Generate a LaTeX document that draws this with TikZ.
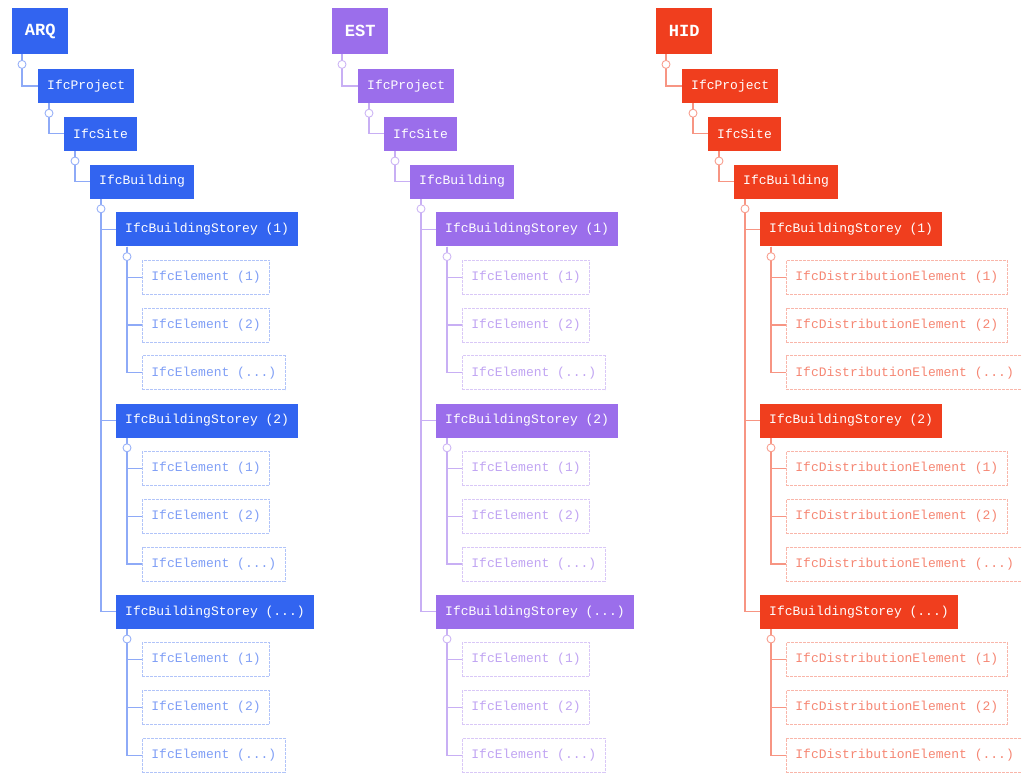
\documentclass[tikz,border=0pt]{standalone}
\usepackage{fontspec}
\setmonofont{Liberation Mono}
\usetikzlibrary{calc}

\definecolor{arq}{RGB}{50,100,240}
\definecolor{est}{RGB}{155,110,235}
\definecolor{hid}{RGB}{240,62,30}

\newcommand\more{...}

\tikzset{
  head/.style={fill=#1, text=white, font=\ttfamily\bfseries\fontsize{17}{17}\selectfont,
    minimum width=56pt, minimum height=46pt, inner sep=0pt, anchor=north west},
  level/.style={fill=#1, text=white, font=\ttfamily\fontsize{13}{13}\selectfont,
    minimum height=34pt, inner xsep=9pt, inner ysep=0pt, anchor=west},
  leaf/.style={draw=#1!38!white, dash pattern=on 3pt off 1pt, line width=0.8pt, fill=white,
    text=#1!62!white, font=\ttfamily\fontsize{13}{13}\selectfont,
    minimum height=34pt, inner xsep=9pt, inner ysep=0pt, anchor=west},
  link/.style={draw=#1!55!white, line width=1.3pt},
  knob/.style={circle, draw=#1!50!white, fill=white, line width=0.9pt,
    inner sep=0pt, minimum size=8pt},
}

% One discipline tree: #1 name prefix, #2 x offset, #3 colour, #4 title, #5 element class
\newcommand\disciplinetree[5]{%
  \begin{scope}[xshift=#2pt]
    \node[head=#3] (#1-top) at (12,8) {#4};
    \node[level=#3] (#1-prj) at (38,86) {IfcProject};
    \node[level=#3] (#1-site) at (64,133.8) {IfcSite};
    \node[level=#3] (#1-bld) at (90,181.6) {IfcBuilding};
    % chain project -> site -> building
    \draw[link=#3] ($(#1-top.south west)+(10,0)$) |- (#1-prj.west);
    \draw[link=#3] ($(#1-prj.south west)+(11,0)$) |- (#1-site.west);
    \draw[link=#3] ($(#1-site.south west)+(11,0)$) |- (#1-bld.west);
    % storeys and their elements
    \foreach \i/\lbl in {1/1,2/2,3/\more}{
      \pgfmathsetmacro\r{4*\i-1}
      \node[level=#3] (#1-s\i) at (116,{86+47.8*\r}) {IfcBuildingStorey (\lbl)};
      \draw[link=#3] ($(#1-bld.south west)+(11,0)$) |- (#1-s\i.west);
      \foreach \j/\ll in {1/1,2/2,3/\more}{
        \node[leaf=#3] (#1-s\i-e\j) at (142,{86+47.8*(\r+\j)}) {#5 (\ll)};
        \draw[link=#3] ($(#1-s\i.south west)+(11,0)$) |- (#1-s\i-e\j.west);
      }
      \node[knob=#3] (#1-k\i) at ($(#1-s\i.south west)+(11,10)$) {};
    }
    \node[knob=#3] (#1-ktop) at ($(#1-top.south west)+(10,10)$) {};
    \node[knob=#3] (#1-kprj) at ($(#1-prj.south west)+(11,10)$) {};
    \node[knob=#3] (#1-ksite) at ($(#1-site.south west)+(11,10)$) {};
    \node[knob=#3] (#1-kbld) at ($(#1-bld.south west)+(11,10)$) {};
  \end{scope}%
}

\begin{document}
\begin{tikzpicture}[x=1pt,y=-1pt]
  \useasboundingbox (0,0) rectangle (1022,774);
  \disciplinetree{arq}{0}{arq}{ARQ}{IfcElement}
  \disciplinetree{est}{320}{est}{EST}{IfcElement}
  \disciplinetree{hid}{644}{hid}{HID}{IfcDistributionElement}
\end{tikzpicture}
\end{document}
